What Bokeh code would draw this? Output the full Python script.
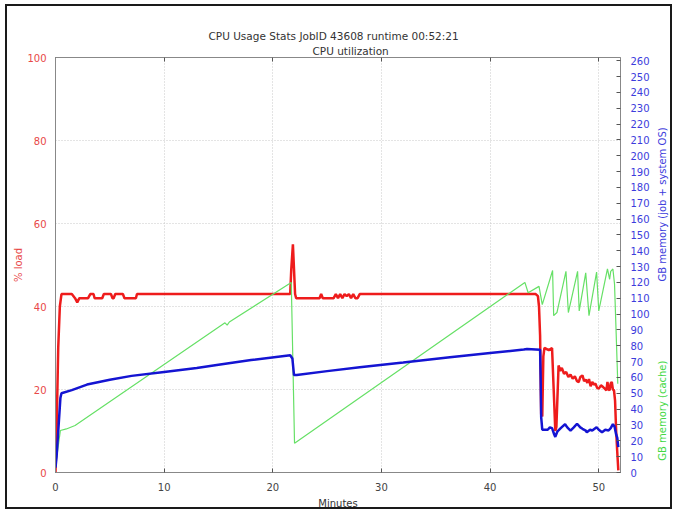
import math
from bokeh.plotting import figure
from bokeh.models import Range1d, LinearAxis, Label, FixedTicker, Title
from bokeh.embed import file_html
from bokeh.resources import INLINE

# ---------------- data ----------------
title_line1 = "CPU Usage Stats JobID 43608  runtime 00:52:21"
title_line2 = "CPU utilization"

x_ticks = [0, 10, 20, 30, 40, 50]
load_ticks = [0, 20, 40, 60, 80, 100]
mem_ticks = list(range(0, 261, 10))

# CPU load (% load, left axis)
load_minutes = [0, 0.1, 0.25, 0.4, 0.55, 0.6, 1.5, 1.8, 2.0, 2.2, 3.0, 3.2, 3.5, 3.6,
                4.3, 4.45, 5.1, 5.25, 5.35, 5.5, 6.2, 6.35, 7.4, 7.5, 21.6, 21.7,
                21.85, 21.95, 22.05, 22.15, 24.3, 24.45, 24.6, 25.6, 25.8, 26.0,
                26.2, 26.4, 26.6, 26.8, 27.0, 27.2, 27.4, 27.6, 27.8, 28.0, 44.2,
                44.4, 44.5, 44.6, 44.7, 44.8, 44.9, 45.0, 45.4, 45.7, 45.85, 46.0,
                46.1, 46.25, 46.3, 46.45, 46.6, 46.8, 47.0, 47.2, 47.4, 47.6, 47.8,
                48.0, 48.15, 48.3, 48.5, 48.65, 48.8, 48.95, 49.1, 49.25, 49.4,
                49.55, 49.7, 49.85, 50.0, 50.2, 50.4, 50.55, 50.7, 50.8, 50.9, 51.0,
                51.1, 51.2, 51.3, 51.4, 51.5, 51.6, 51.7, 51.8]
load_pct = [0, 10, 30, 40, 43, 43, 43, 42, 41, 42, 42, 43, 43, 42,
            42, 43, 43, 42, 42, 43, 43, 42, 42, 43, 43, 49,
            55, 49, 43, 42, 42, 43, 42, 42, 43, 42,
            43, 42, 43, 42.5, 43, 42, 43, 42, 42, 43, 43,
            42.5, 40, 33, 14, 13.5, 28, 30, 29.5, 30, 20, 10,
            11, 22, 25.8, 24.5, 25.2, 23.8, 24.2, 23, 23.6, 22.6, 23.2,
            22, 21.8, 23, 23.4, 22, 22.4, 21.6, 22.5, 20.8, 21.8,
            21.2, 21.4, 20.4, 20.2, 21, 20.6, 20.2, 19.8, 21.8, 20, 19.8,
            21.5, 21.8, 20, 19.8, 17.3, 10, 5, 0.5]

# GB memory (job + system OS), right axis
job_minutes = [0, 0.1, 0.45, 0.55, 1.5, 2.9, 5, 7, 10, 13, 15, 18, 21.6, 21.8,
               21.95, 22.2, 25, 28, 32, 36.3, 40, 43.1, 43.4, 44.6, 44.65, 44.7,
               44.8, 45.3, 45.5, 45.7, 45.9, 46.0, 46.2, 46.5, 46.9, 47.1, 47.4,
               47.7, 48.0, 48.3, 48.5, 48.8, 48.9, 49.2, 49.4, 49.8, 50.0, 50.3,
               50.6, 50.9, 51.1, 51.3, 51.45, 51.6, 51.7, 51.8]
job_mem = [3, 10, 47, 50, 52, 55.5, 58.5, 61, 63.5, 66, 68, 71, 74, 72,
           61.5, 61.5, 64, 66.5, 69.5, 72.8, 75.5, 77.6, 78, 77.5, 60, 35,
           27, 27, 28.5, 28, 24, 22.5, 26, 28, 30.5, 28.5, 26.5,
           28.5, 30.8, 28.5, 27.6, 26.5, 25.4, 27, 26.5, 28.6, 27, 25.4,
           27, 26.5, 28, 30.5, 29, 24, 22, 16]

# GB memory (cache), right axis
cache_minutes = [0, 0.45, 1.0, 1.8, 15.6, 15.8, 16.0, 21.7, 22.0, 43.2, 43.5, 44.5,
                 44.8, 45.75, 45.85, 46.15, 46.98, 47.2, 48.05, 48.2, 48.8, 49.1,
                 49.8, 50.0, 50.8, 51.0, 51.1, 51.3, 51.45, 51.6, 51.75]
cache_mem = [4, 26.5, 27.5, 29.7, 94.5, 93, 95, 120, 18.5, 120, 113.5, 117.5,
             106, 127.5, 99, 101, 127, 101, 127, 102, 126, 99,
             126.5, 102, 128.5, 122, 127, 128.5, 119, 88, 56]

# ---------------- styling ----------------
RED = "#ee1c1c"
BLUE = "#1414d2"
GREEN = "#66e066"
RED_TXT = "#e84848"
BLUE_TXT = "#3c3cdc"
GREEN_TXT = "#44d844"
FONT = "DejaVu Sans"
FS = "10px"

p = figure(width=667, height=505, x_range=Range1d(0, 52), y_range=Range1d(0, 100),
           output_backend="svg", toolbar_location=None, title=None,
           min_border_left=48, min_border_right=54, min_border_top=51,
           min_border_bottom=39)
p.styles = {"border": "2px solid #1a1a1a", "margin-left": "5px", "margin-top": "4px"}
p.background_fill_color = "white"
p.border_fill_color = "white"
p.outline_line_color = "#888888"
p.outline_line_width = 1

p.extra_y_ranges = {"mem": Range1d(0, 262)}

# top tick marks only (labels not drawn), closest to the frame
ax_t = LinearAxis(ticker=FixedTicker(ticks=x_ticks))
ax_t.major_tick_in = 4
ax_t.major_tick_out = 0
ax_t.minor_tick_line_color = None
ax_t.axis_line_color = None
ax_t.major_tick_line_color = "#555555"
ax_t.major_label_text_alpha = 0
ax_t.major_label_text_color = None
ax_t.major_label_text_font_size = "1px"
ax_t.major_label_standoff = 0
p.add_layout(ax_t, "above")

# titles (added inner first)
t2 = Title(text=title_line2, align="left", offset=257, standoff=2,
           text_font=FONT, text_font_size="10.5px", text_font_style="normal",
           text_color="#333333")
t1 = Title(text=title_line1, align="left", offset=153, standoff=0,
           text_font=FONT, text_font_size="10.5px", text_font_style="normal",
           text_color="#333333")
p.add_layout(t2, "above")
p.add_layout(t1, "above")

# x axis
ax_b = p.below[0]
ax_b.ticker = FixedTicker(ticks=x_ticks)
ax_b.major_tick_in = 4
ax_b.major_tick_out = 0
ax_b.minor_tick_line_color = None
ax_b.axis_line_color = "#888888"
ax_b.major_tick_line_color = "#555555"
ax_b.major_label_text_color = "#444444"
ax_b.major_label_text_font = FONT
ax_b.major_label_text_font_size = FS
ax_b.major_label_standoff = 10
ax_b.axis_label = "Minutes"
ax_b.axis_label_text_font = FONT
ax_b.axis_label_text_font_size = FS
ax_b.axis_label_text_font_style = "normal"
ax_b.axis_label_text_color = "#333333"
ax_b.axis_label_standoff = 4

# left axis
ax_l = p.left[0]
ax_l.ticker = FixedTicker(ticks=load_ticks)
ax_l.major_tick_in = 0
ax_l.major_tick_out = 0
ax_l.minor_tick_line_color = None
ax_l.axis_line_color = "#888888"
ax_l.major_label_text_color = RED_TXT
ax_l.major_label_text_font = FONT
ax_l.major_label_text_font_size = FS
ax_l.major_label_standoff = 9
ax_l.axis_label = "% load"
ax_l.axis_label_text_font = FONT
ax_l.axis_label_text_font_size = FS
ax_l.axis_label_text_font_style = "normal"
ax_l.axis_label_text_color = RED_TXT
ax_l.axis_label_standoff = 0

# right axis
ax_r = LinearAxis(y_range_name="mem", ticker=FixedTicker(ticks=mem_ticks))
ax_r.major_tick_in = 4
ax_r.major_tick_out = 0
ax_r.minor_tick_line_color = None
ax_r.axis_line_color = "#888888"
ax_r.major_tick_line_color = "#555555"
ax_r.major_label_text_color = BLUE_TXT
ax_r.major_label_text_font = FONT
ax_r.major_label_text_font_size = FS
ax_r.major_label_standoff = 10
p.add_layout(ax_r, "right")

# grid
p.xgrid.ticker = FixedTicker(ticks=x_ticks[1:])
p.ygrid.ticker = FixedTicker(ticks=load_ticks[1:-1])
for g in (p.xgrid, p.ygrid):
    g.grid_line_color = "#c8c8c8"
    g.grid_line_dash = "1 2"
    g.grid_line_width = 1

# series
p.line(load_minutes, load_pct, line_color=RED, line_width=2.5)
p.line(cache_minutes, cache_mem, line_color=GREEN, line_width=1.2, y_range_name="mem")
p.line(job_minutes, job_mem, line_color=BLUE, line_width=2.5, y_range_name="mem")

# right-hand vertical labels, placed in the right side panel
for txt, yv, col in (("GB memory (job + system OS)", 64.6, BLUE_TXT),
                     ("GB memory (cache)", 14.9, GREEN_TXT)):
    p.add_layout(Label(x=55.9, y=yv, text=txt, text_color=col, text_font=FONT,
                       text_font_size=FS, text_align="center", text_line_height=1.0,
                       text_baseline="middle", angle=math.pi / 2), "right")

open("out.html", "w").write(file_html(p, INLINE))
